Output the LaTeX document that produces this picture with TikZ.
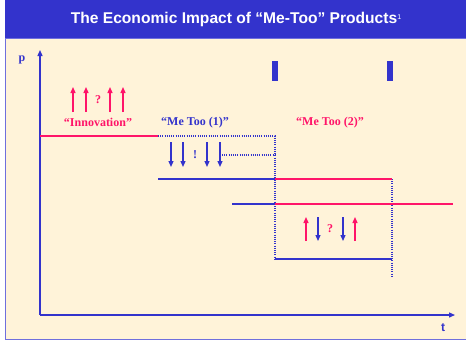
\documentclass[tikz,border=0pt]{standalone}
\usepackage{fontspec}
\setmainfont{Liberation Serif}
\setsansfont{Liberation Sans}
\usepackage{tikz}
\usetikzlibrary{positioning, arrows.meta}
\definecolor{slideblue}{HTML}{3333CC}
\definecolor{slidered}{HTML}{FF1469}
\definecolor{slidecream}{HTML}{FFF3D9}
\definecolor{framebl}{HTML}{6F6FDD}

\begin{document}
\begin{tikzpicture}[
    x=1pt, y=-1pt,
    tip/.style={-{Triangle[length=6pt, width=5pt]}},
    axis/.style={draw=slideblue, line width=1.3pt, tip},
    redline/.style={draw=slidered, line width=1.3pt},
    blueline/.style={draw=slideblue, line width=1.3pt},
    dotline/.style={draw=slideblue, line width=1.2pt, dash pattern=on 1pt off 1.2pt},
    uparr/.style={draw=slidered, line width=1.3pt, tip},
    downarr/.style={draw=slideblue, line width=1.3pt, tip},
    lbl/.style={font=\bfseries\fontsize{12}{14}\selectfont},
    marker/.style={fill=slideblue}
]
\useasboundingbox (0,0) rectangle (466,341);
% Slide frame and title
\fill[white] (0,0) rectangle (466,341);
\filldraw[fill=slidecream, draw=framebl, line width=0.8pt] (5,38) rectangle (470,339);
\fill[slideblue] (5,0) rectangle (466,38);
\node[text=white, font=\sffamily\bfseries\fontsize{15.6}{17}\selectfont] (title) at (236,19)
    {The Economic Impact of “Me-Too” Products\raisebox{4pt}{\mdseries\fontsize{7}{7}\selectfont 1}};

% Axes
\coordinate (O) at (40,315);
\coordinate (ptop) at (40,50);
\coordinate (tend) at (455,315);
\draw[axis] (O) -- (ptop);
\draw[axis] (O) -- (tend);
\node[lbl, text=slideblue] (p) at (22,60) {p};
\node[text=slideblue, font=\sffamily\bfseries\fontsize{12}{14}\selectfont] (t) at (443,328) {t};

% Entry markers
\fill[marker] (272,61) rectangle (278,81);
\fill[marker] (387,61) rectangle (393,81);

% Price levels
\coordinate (inA) at (40,136);
\coordinate (inB) at (158,136);
\coordinate (m1A) at (158,179);
\coordinate (m1B) at (275,179);
\coordinate (m1C) at (392,179);
\coordinate (m2A) at (232,204);
\coordinate (m2B) at (275,204);
\coordinate (m2C) at (453,204);
\coordinate (lowA) at (275,259);
\coordinate (lowB) at (392,259);
\draw[redline] (inA) -- (inB);
\draw[dotline] (inB) -- (275,136) -- (lowA);
\draw[dotline] (222,155) -- (275,155);
\draw[dotline] (m1C) -- (392,277);
\draw[blueline] (m1A) -- (m1B);
\draw[redline] (m1B) -- (m1C);
\draw[blueline] (m2A) -- (m2B);
\draw[redline] (m2B) -- (m2C);
\draw[blueline] (lowA) -- (lowB);

% Labels
\node[lbl, text=slidered] (inno) at (98,122) {“Innovation”};
\node[lbl, text=slideblue] (me1) at (195,123) {“Me Too (1)”};
\node[lbl, text=slidered] (me2) at (330,123) {“Me Too (2)”};

% Innovation arrows
\draw[uparr] (73,112) -- (73,87);
\draw[uparr] (86,112) -- (86,87);
\draw[uparr] (110,112) -- (110,87);
\draw[uparr] (123,112) -- (123,87);
\node[lbl, text=slidered] (q1) at (98,100) {?};

% Me Too (1) arrows
\draw[downarr] (171,142) -- (171,167);
\draw[downarr] (183,142) -- (183,167);
\draw[downarr] (207,142) -- (207,167);
\draw[downarr] (220,142) -- (220,167);
\node[lbl, text=slideblue] (ex) at (195,155) {!};

% Me Too (2) arrows
\draw[uparr] (306,241) -- (306,217);
\draw[downarr] (318,217) -- (318,241);
\draw[downarr] (343,217) -- (343,241);
\draw[uparr] (355,241) -- (355,217);
\node[lbl, text=slidered] (q2) at (330,229) {?};
\end{tikzpicture}
\end{document}
